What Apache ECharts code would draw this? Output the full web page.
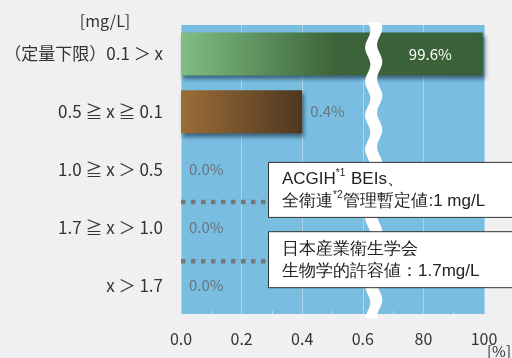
<!DOCTYPE html>
<html>
<head>
<meta charset="utf-8">
<script src="https://cdn.jsdelivr.net/npm/echarts@6/dist/echarts.min.js"></script>
<style>
  html, body { margin: 0; padding: 0; background: #f0f0f0; }
  #chart { width: 512px; height: 358px; }
</style>
</head>
<body>
<div id="chart"></div>
<script>
// Concentration bands (mg/L), top to bottom
const categories = ['（定量下限）0.1 ＞ x', '0.5 ≧ x ≧ 0.1', '1.0 ≧ x ＞ 0.5', '1.7 ≧ x ＞ 1.0', 'x ＞ 1.7'];
// Share of samples in each band (%)
const shares = [99.6, 0.4, 0.0, 0.0, 0.0];
// Broken percentage axis: each tick step takes the same width
const tickValues = [0, 0.2, 0.4, 0.6, 80, 100];
const tickLabels = ['0.0', '0.2', '0.4', '0.6', '80', '100'];
// Where the wavy break sits, in axis steps (between 0.6 and 80)
const breakStep = 3.18;

const FONT = '"Noto Sans CJK JP", "Noto Sans", sans-serif';

// Piecewise-linear map from a percentage to axis steps
function toSteps(v) {
  for (let i = 1; i < tickValues.length; i++) {
    if (v <= tickValues[i]) {
      const a = tickValues[i - 1], b = tickValues[i];
      return (i - 1) + (v - a) / (b - a);
    }
  }
  return tickValues.length - 1;
}

const barFills = [
  new echarts.graphic.LinearGradient(0, 0, 1, 0, [
    { offset: 0, color: '#80be83' },
    { offset: 0.52, color: '#3b6238' },
    { offset: 1, color: '#3a6137' }
  ]),
  new echarts.graphic.LinearGradient(0, 0, 1, 0, [
    { offset: 0, color: '#9d6d36' },
    { offset: 1, color: '#4d3820' }
  ])
];

const barData = shares.map((v, i) => {
  const item = { value: toSteps(v) };
  if (barFills[i]) item.itemStyle = { color: barFills[i] };
  if (i === 0) {
    item.label = { position: 'insideRight', distance: 31, color: '#ffffff' };
  }
  return item;
});

const chart = echarts.init(document.getElementById('chart'), null, { renderer: 'canvas' });

chart.setOption({
  backgroundColor: '#f0f0f0',
  animation: false,
  textStyle: { fontFamily: FONT },
  grid: {
    left: 181, right: 28, top: 25, bottom: 44,
    show: true, backgroundColor: '#79bee1', borderWidth: 0
  },
  xAxis: {
    type: 'value',
    min: 0, max: tickValues.length - 1, interval: 1,
    axisLine: { show: false },
    axisTick: { show: false, inside: true },
    minorTick: { show: true, splitNumber: 2, length: 3, lineStyle: { color: '#b8def0', width: 1 } },
    splitLine: { show: true, lineStyle: { color: '#a9d6ec', width: 1 } },
    axisLabel: {
      color: '#333333', fontSize: 16, margin: 17, fontFamily: FONT,
      formatter: (val) => tickLabels[Math.round(val)]
    }
  },
  yAxis: {
    type: 'category',
    inverse: true,
    data: categories,
    axisLine: { show: false },
    axisTick: { show: false },
    splitLine: { show: false },
    axisLabel: { color: '#333333', fontSize: 17, margin: 18, fontFamily: FONT }
  },
  series: [{
    type: 'bar',
    data: barData,
    barWidth: 43,
    itemStyle: {
      shadowColor: 'rgba(20, 40, 60, 0.6)',
      shadowBlur: 4,
      shadowOffsetX: 2,
      shadowOffsetY: 4
    },
    label: {
      show: true,
      position: 'right',
      distance: 8,
      color: '#66737d',
      fontSize: 15,
      fontFamily: FONT,
      formatter: (p) => shares[p.dataIndex].toFixed(1) + '%'
    },
    z: 2
  }]
});

// Decorations placed from the axes: break band, threshold lines, notes
function drawDecorations() {
  const rect = chart.getModel().getComponent('grid').coordinateSystem.getRect();
  const cx = chart.convertToPixel({ xAxisIndex: 0 }, breakStep);
  const rowH = rect.height / categories.length;
  const y10 = rect.y + rowH * 3 + 3.5;   // 1.0 mg/L
  const y17 = rect.y + rowH * 4 + 5;     // 1.7 mg/L

  // wavy white band marking the axis break
  const pts = [];
  const yTop = rect.y - 3, yBot = rect.y + rect.height + 5;
  for (let y = yTop; y <= yBot; y += 2) {
    pts.push([cx - 6 + 2.6 * Math.sin((y - yTop) / 34 * 2 * Math.PI), y]);
  }
  for (let y = yBot; y >= yTop; y -= 2) {
    pts.push([cx + 6 + 2.6 * Math.sin((y - yTop) / 34 * 2 * Math.PI + 0.5), y]);
  }

  const dotted = (y) => ({
    type: 'line', z: 20,
    shape: { x1: rect.x, y1: y, x2: rect.x + 90, y2: y },
    style: { stroke: '#777777', lineWidth: 4.5, lineDash: [4.5, 5.5] }
  });

  const noteBox = (top, h, text) => ({
    type: 'group', z: 30,
    children: [
      {
        type: 'rect', z: 30,
        shape: { x: 268.5, y: top + 0.5, width: 260, height: h },
        style: { fill: '#ffffff', stroke: '#333333', lineWidth: 1 }
      },
      {
        type: 'text', z: 31,
        x: 282, y: top + h / 2 + 1,
        style: {
          text: text,
          fill: '#222222',
          font: '17px ' + FONT,
          verticalAlign: 'middle',
          lineHeight: 22,
          rich: {
            sup: { fontSize: 10, fill: '#222222', verticalAlign: 'top', lineHeight: 22, padding: [0, 1, 9, 0] },
            t: { fontSize: 17, fill: '#222222', lineHeight: 22 }
          }
        }
      }
    ]
  });

  chart.setOption({
    graphic: [
      {
        type: 'polygon', z: 15,
        shape: { points: pts },
        style: { fill: '#ffffff' }
      },
      dotted(y10),
      dotted(y17),
      noteBox(y10 - 40, 55, '{t|ACGIH}{sup|*1}{t| BEIs、}\n{t|全衛連}{sup|*2}{t|管理暫定値:1 mg/L}'),
      noteBox(y17 - 30, 56, '{t|日本産業衛生学会}\n{t|生物学的許容値：1.7mg/L}'),
      {
        type: 'text', z: 10, x: 105, y: 21,
        style: { text: '[mg/L]', fill: '#333333', font: '16px ' + FONT, align: 'center', verticalAlign: 'middle' }
      },
      {
        type: 'text', z: 10, x: 511, y: 351,
        style: { text: '[%]', fill: '#333333', font: '15px ' + FONT, align: 'right', verticalAlign: 'middle' }
      }
    ]
  });
}

drawDecorations();
</script>
</body>
</html>
